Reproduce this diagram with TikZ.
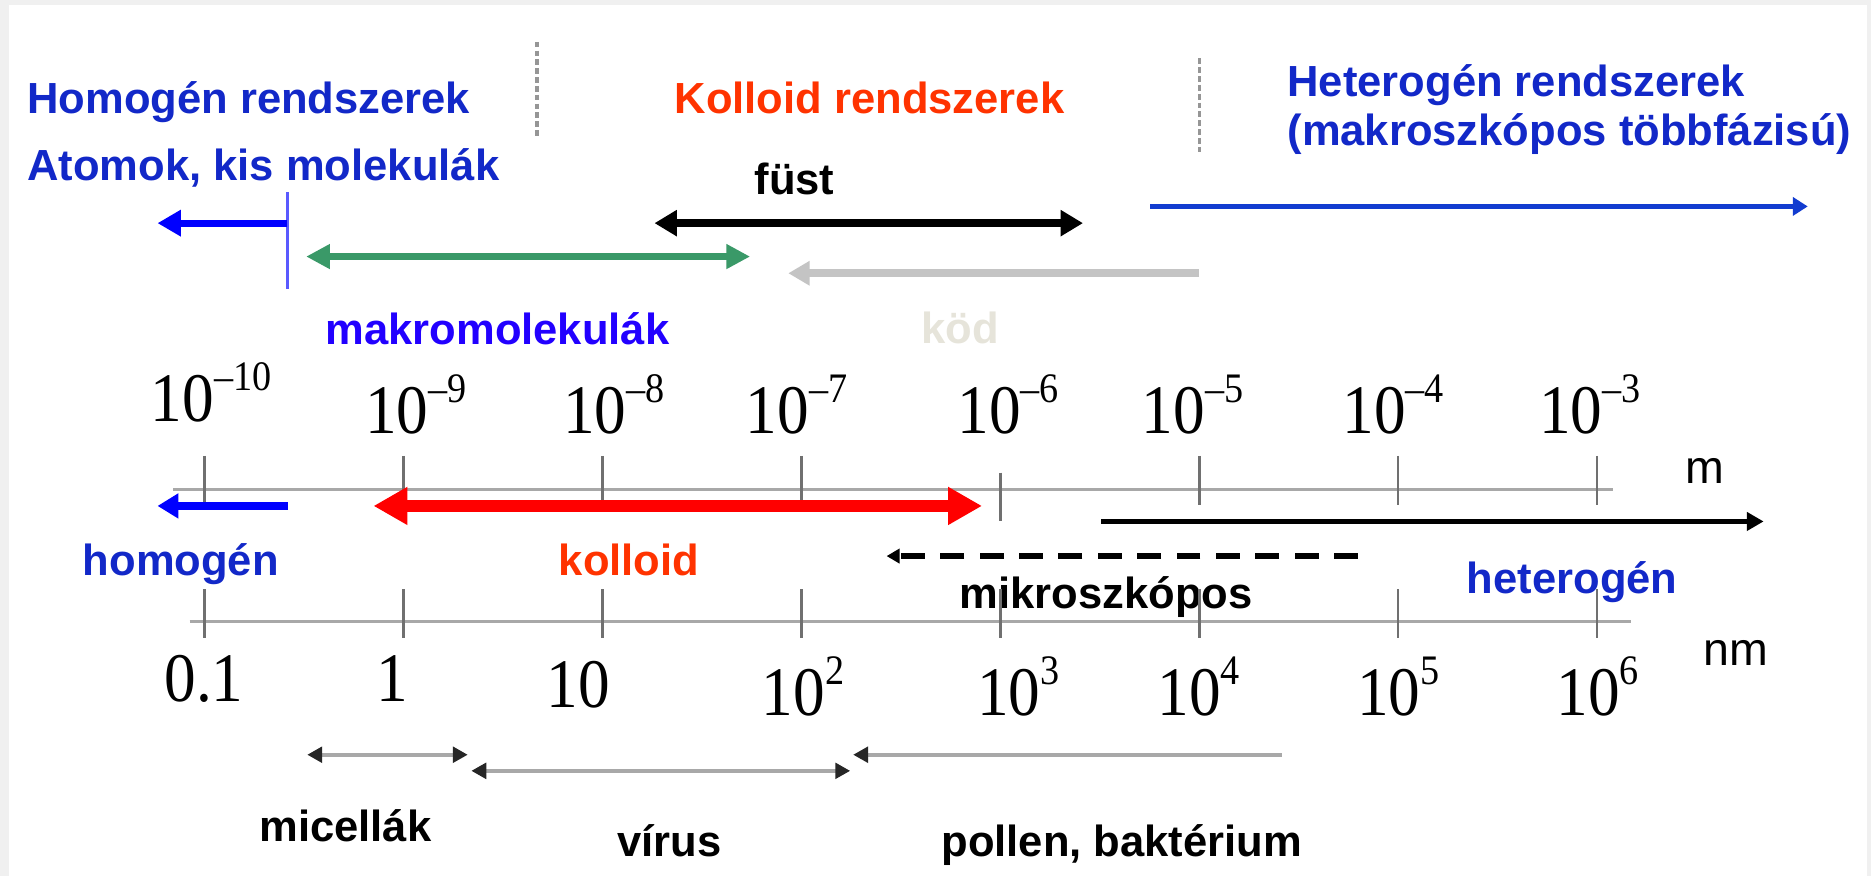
\documentclass[tikz,border=0pt]{standalone}
\usepackage{graphicx}
\usepackage{fontspec}
\setmainfont{Liberation Sans}
\newfontfamily\mynumfont{Liberation Serif}
\usetikzlibrary{arrows.meta}

\definecolor{tblue}{RGB}{18,40,200}
\definecolor{pblue}{RGB}{34,0,255}
\definecolor{tred}{RGB}{255,51,0}
\definecolor{ared}{RGB}{255,0,0}
\definecolor{agreen}{RGB}{58,153,104}
\definecolor{agray}{RGB}{196,196,196}
\definecolor{kod}{RGB}{230,228,218}
\definecolor{lblue}{RGB}{18,60,208}
\definecolor{vblue}{RGB}{90,90,255}
\definecolor{axgray}{RGB}{168,168,168}
\definecolor{tkgray}{RGB}{112,112,112}
\definecolor{bggray}{RGB}{240,240,240}
\definecolor{sepgray}{RGB}{150,150,150}

\newcommand{\mynum}[1]{\scalebox{1}[1.1]{\fontsize{26.5}{30}\selectfont\mynumfont #1}}
\newcommand{\mypow}[1]{\mynum{10\raisebox{11.8pt}{\fontsize{16}{18}\selectfont #1}}}

\tikzset{
  lab/.style={inner sep=0pt, anchor=base west, font=\fontsize{18.25}{22}\selectfont\bfseries},
  unitlab/.style={inner sep=0pt, anchor=base west, font=\fontsize{19.5}{22}\selectfont},
  numlab/.style={inner sep=0pt, anchor=base},
  axisline/.style={line width=1.4pt, color=axgray},
  tickline/.style={line width=1.1pt, color=tkgray},
  sepline/.style={line width=1.3pt, color=sepgray, dash pattern=on 2.4pt off 1.3pt},
  smallarr/.style={line width=1.7pt, color=axgray},
}

\begin{document}
\begin{tikzpicture}[x=0.5pt, y=-0.5pt]
% background
\fill[bggray] (0,0) rectangle (1568,734);
\fill[white] (7.5,4.2) rectangle (1564.8,734);
\useasboundingbox (0,0) rectangle (1568,734);

% separators
\draw[sepline] (450,35) -- (450,114.6);
\draw[sepline] (1005,49) -- (1005,128.6);

% titles
\node[lab, tblue] (thom) at (22.5,95) {Homogén rendszerek};
\node[lab, tblue] (tatom) at (22.5,151) {Atomok, kis molekulák};
\node[lab, tred] (tkol) at (565,95) {Kolloid rendszerek};
\node[lab, tblue] (thet) at (1078.6,81) {Heterogén rendszerek};
\node[lab, tblue] (thet2) at (1078.6,122) {(makroszkópos többfázisú)};
\node[lab, black] (tfust) at (632,163) {füst};
\node[lab, pblue] (tmakro) at (272.5,289) {makromolekulák};
\node[lab, kod] (tkod) at (772,288) {köd};

% top arrows
\coordinate (bv1) at (240.6,161);
\coordinate (bv2) at (240.6,242);
\draw[vblue, line width=1.3pt] (bv1) -- (bv2);
\coordinate (ba1) at (240.6,187);
\coordinate (ba2) at (132,187);
\draw[blue, line width=3pt, -{Triangle[length=9.75pt,width=10.5pt]}] (ba1) -- (ba2);
\coordinate (fa1) at (548.5,187);
\coordinate (fa2) at (907.6,187);
\draw[black, line width=3.2pt, {Triangle[length=9.4pt,width=10.5pt]}-{Triangle[length=9.4pt,width=10.5pt]}] (fa1) -- (fa2);
\coordinate (ga1) at (256.6,215);
\coordinate (ga2) at (628.6,215);
\draw[agreen, line width=3.2pt, {Triangle[length=9.9pt,width=9.8pt]}-{Triangle[length=9.9pt,width=9.8pt]}] (ga1) -- (ga2);
\coordinate (ka1) at (1005,229);
\coordinate (ka2) at (660.6,229);
\draw[agray, line width=3.2pt, -{Triangle[length=9pt,width=9.8pt]}] (ka1) -- (ka2);
\coordinate (ha1) at (964,173);
\coordinate (ha2) at (1515,173);
\draw[lblue, line width=2.25pt, -{Triangle[length=6.25pt,width=7.5pt]}] (ha1) -- (ha2);

% upper numbers
\node[numlab] (m10) at (177,353) {\mypow{–10}};
\node[numlab] (m9) at (348.5,363) {\mypow{–9}};
\node[numlab] (m8) at (514.5,363) {\mypow{–8}};
\node[numlab] (m7) at (667.5,363) {\mypow{–7}};
\node[numlab] (m6) at (845,363) {\mypow{–6}};
\node[numlab] (m5) at (999.5,363) {\mypow{–5}};
\node[numlab] (m4) at (1167.5,363) {\mypow{–4}};
\node[numlab] (m3) at (1332.5,363) {\mypow{–3}};

% upper axis
\coordinate (ua1) at (145,410);
\coordinate (ua2) at (1352,410);
\draw[axisline] (ua1) -- (ua2);
\foreach \i in {0,1,2,3,5,6,7} {
  \draw[tickline] ({171.5+166.7*\i},382) -- ({171.5+166.7*\i},423);
}
\draw[tickline] ({171.5+166.7*4},396) -- ({171.5+166.7*4},437);
\node[unitlab] (um) at (1412,405) {m};

% middle arrows
\coordinate (hb1) at (241,424);
\coordinate (hb2) at (132,424);
\draw[blue, line width=3.5pt, -{Triangle[length=8.75pt,width=10pt]}] (hb1) -- (hb2);
\coordinate (rk1) at (313,424);
\coordinate (rk2) at (823,424);
\draw[ared, line width=5pt, {Triangle[length=14.25pt,width=15pt]}-{Triangle[length=14.25pt,width=15pt]}] (rk1) -- (rk2);
\coordinate (bh1) at (923,437);
\coordinate (bh2) at (1478,437);
\draw[black, line width=2.35pt, -{Triangle[length=7pt,width=7.5pt]}] (bh1) -- (bh2);
\coordinate (dm1) at (1138,466);
\coordinate (dm2) at (743,466);
\draw[black, line width=2.35pt, dash pattern=on 10pt off 6.5pt, -{Triangle[length=5.5pt,width=6pt]}] (dm1) -- (dm2);

\node[lab, tblue] (lhom) at (69,482) {homogén};
\node[lab, tred] (lkol) at (468,482) {kolloid};
\node[lab, black] (lmik) at (804,510) {mikroszkópos};
\node[lab, tblue] (lhet) at (1229,497) {heterogén};

% lower axis
\coordinate (la1) at (159,521);
\coordinate (la2) at (1366.6,521);
\draw[axisline] (la1) -- (la2);
\foreach \i in {0,...,7} {
  \draw[tickline] ({171.5+166.7*\i},494) -- ({171.5+166.7*\i},535);
}
\node[unitlab] (unm) at (1427,558) {nm};

% lower numbers
\node[numlab] (n01) at (171,588) {\mynum{0.1}};
\node[numlab] (n1) at (328.5,588) {\mynum{1}};
\node[numlab] (n10) at (484.5,593) {\mynum{10}};
\node[numlab] (n2) at (673,600) {\mypow{2}};
\node[numlab] (n3) at (853.5,600) {\mypow{3}};
\node[numlab] (n4) at (1004.5,600) {\mypow{4}};
\node[numlab] (n5) at (1172,600) {\mypow{5}};
\node[numlab] (n6) at (1339,600) {\mypow{6}};

% small arrows
\coordinate (mc1) at (257.5,632.5);
\coordinate (mc2) at (392,632.5);
\draw[smallarr, {Triangle[length=6.25pt,width=6.5pt,color=black!85]}-{Triangle[length=6.25pt,width=6.5pt,color=black!85]}] (mc1) -- (mc2);
\coordinate (vr1) at (395,646);
\coordinate (vr2) at (712.5,646);
\draw[smallarr, {Triangle[length=6.25pt,width=6.5pt,color=black!85]}-{Triangle[length=6.25pt,width=6.5pt,color=black!85]}] (vr1) -- (vr2);
\coordinate (pb1) at (1074,632.5);
\coordinate (pb2) at (715,632.5);
\draw[smallarr, -{Triangle[length=6.25pt,width=6.5pt,color=black!85]}] (pb1) -- (pb2);

\node[lab, black] (lmic) at (217,705) {micellák};
\node[lab, black] (lvir) at (517,717.5) {vírus};
\node[lab, black] (lpol) at (788.6,717.5) {pollen, baktérium};
\end{tikzpicture}
\end{document}
